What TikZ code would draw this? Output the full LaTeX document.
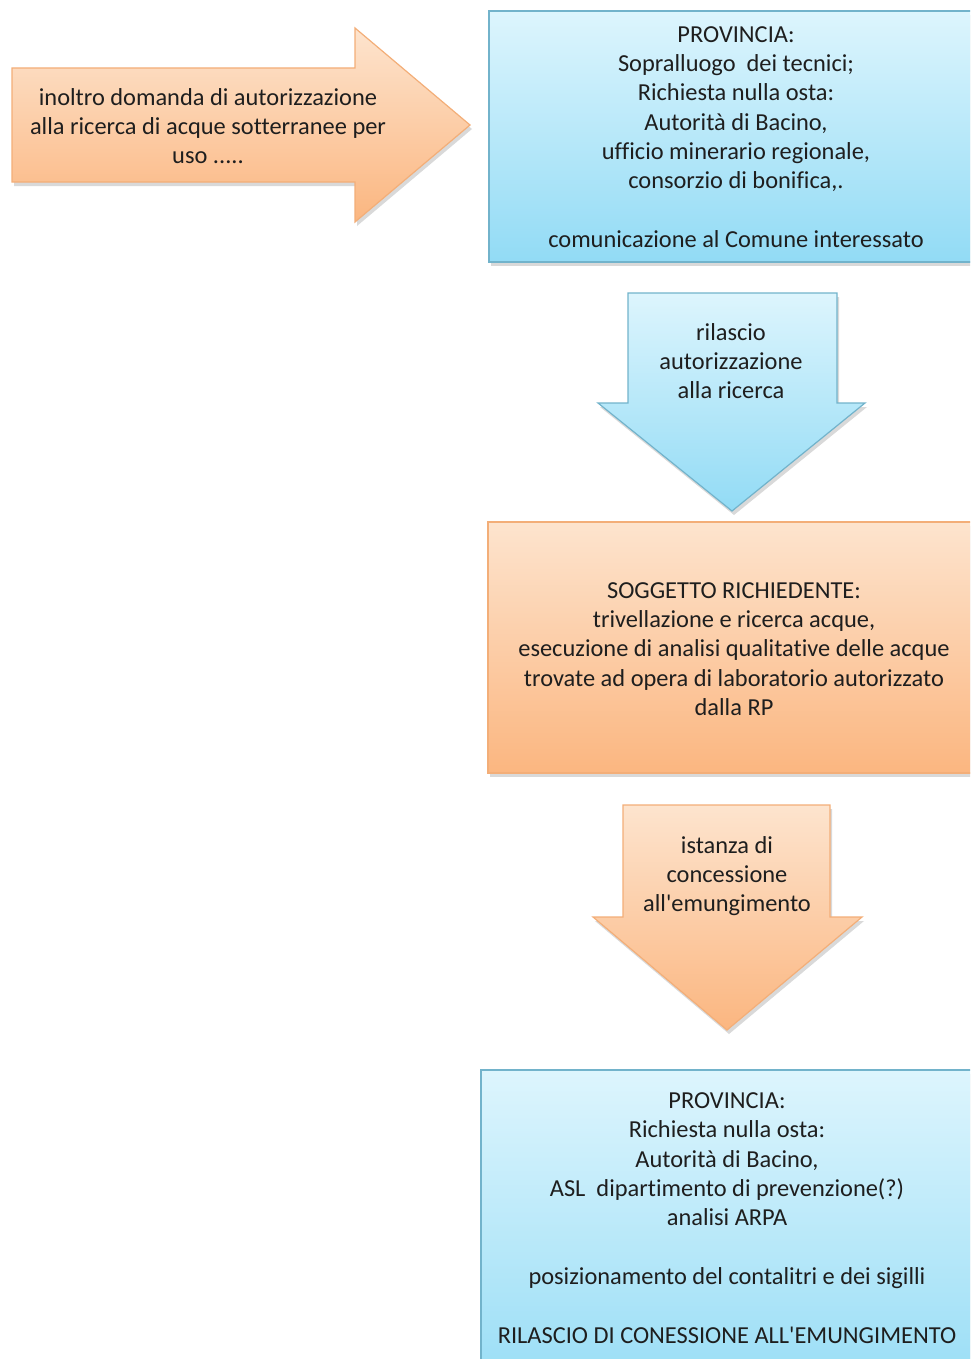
\documentclass[tikz,border=0pt]{standalone}
\usepackage{fontspec}
\setmainfont{Carlito}[Ligatures={NoCommon}]
\usetikzlibrary{shadows}
\definecolor{bluetop}{HTML}{DDF5FD}
\definecolor{bluebot}{HTML}{92DBF5}
\definecolor{blueline}{HTML}{72B3CB}
\definecolor{orgtop}{HTML}{FDE4CE}
\definecolor{orgbot}{HTML}{FBB680}
\definecolor{orgline}{HTML}{F3AE78}
\definecolor{txt}{HTML}{1E1E1E}
\tikzset{
  bluefill/.style={top color=bluetop, bottom color=bluebot, draw=blueline, line width=0.6pt,
    drop shadow={shadow xshift=1pt, shadow yshift=-2pt, opacity=0.3}},
  orgfill/.style={top color=orgtop, bottom color=orgbot, draw=orgline, line width=0.6pt,
    drop shadow={shadow xshift=1pt, shadow yshift=-2pt, opacity=0.3}},
  label/.style={align=center, text=txt, inner sep=0pt, font=\fontsize{12.2}{14.65}\selectfont}
}
\begin{document}
\begin{tikzpicture}[x=0.5pt,y=-0.5pt]
\useasboundingbox (0,0) rectangle (970,1359);
\clip (0,0) rectangle (970,1359);
% left arrow
\path[orgfill] (12,68) -- (355,68) -- (355,28) -- (470,125) -- (355,222) -- (355,182) -- (12,182) -- cycle;
\node[label] (inoltro) at (208,126) {inoltro domanda di autorizzazione\\alla ricerca di acque sotterranee per\\uso .....};
% top box
\path[bluefill] (489,11) rectangle (983,262);
\node[label] (prov1) at (736,137) {PROVINCIA:\\Sopralluogo\ \ dei tecnici;\\Richiesta nulla osta:\\Autorità di Bacino,\\ufficio minerario regionale,\\consorzio di bonifica,.\\[14.65pt]comunicazione al Comune interessato};
% down arrow 1
\path[bluefill] (628,293) -- (837,293) -- (837,403) -- (865,403) -- (732,511) -- (598,403) -- (628,403) -- cycle;
\node[label] (rilascio) at (731,361) {rilascio\\autorizzazione\\alla ricerca};
% orange box
\path[orgfill] (488,522) rectangle (980,773);
\node[label] (sogg) at (734,649) {SOGGETTO RICHIEDENTE:\\trivellazione e ricerca acque,\\esecuzione di analisi qualitative delle acque\\trovate ad opera di laboratorio autorizzato\\dalla RP};
% down arrow 2
\path[orgfill] (623,805) -- (830,805) -- (830,917) -- (862,917) -- (727,1030) -- (593,917) -- (623,917) -- cycle;
\node[label] (istanza) at (727,876) {istanza di\\concessione\\all\textquotesingle emungimento};
% bottom box
\path[bluefill] (481,1070) rectangle (973,1420);
\node[label] (prov2) at (727,1218) {PROVINCIA:\\Richiesta nulla osta:\\Autorità di Bacino,\\ASL\ \ dipartimento di prevenzione(?)\\analisi ARPA\\[14.65pt]posizionamento del contalitri e dei sigilli\\[14.65pt]RILASCIO DI CONESSIONE ALL\textquotesingle EMUNGIMENTO};
\end{tikzpicture}
\end{document}
